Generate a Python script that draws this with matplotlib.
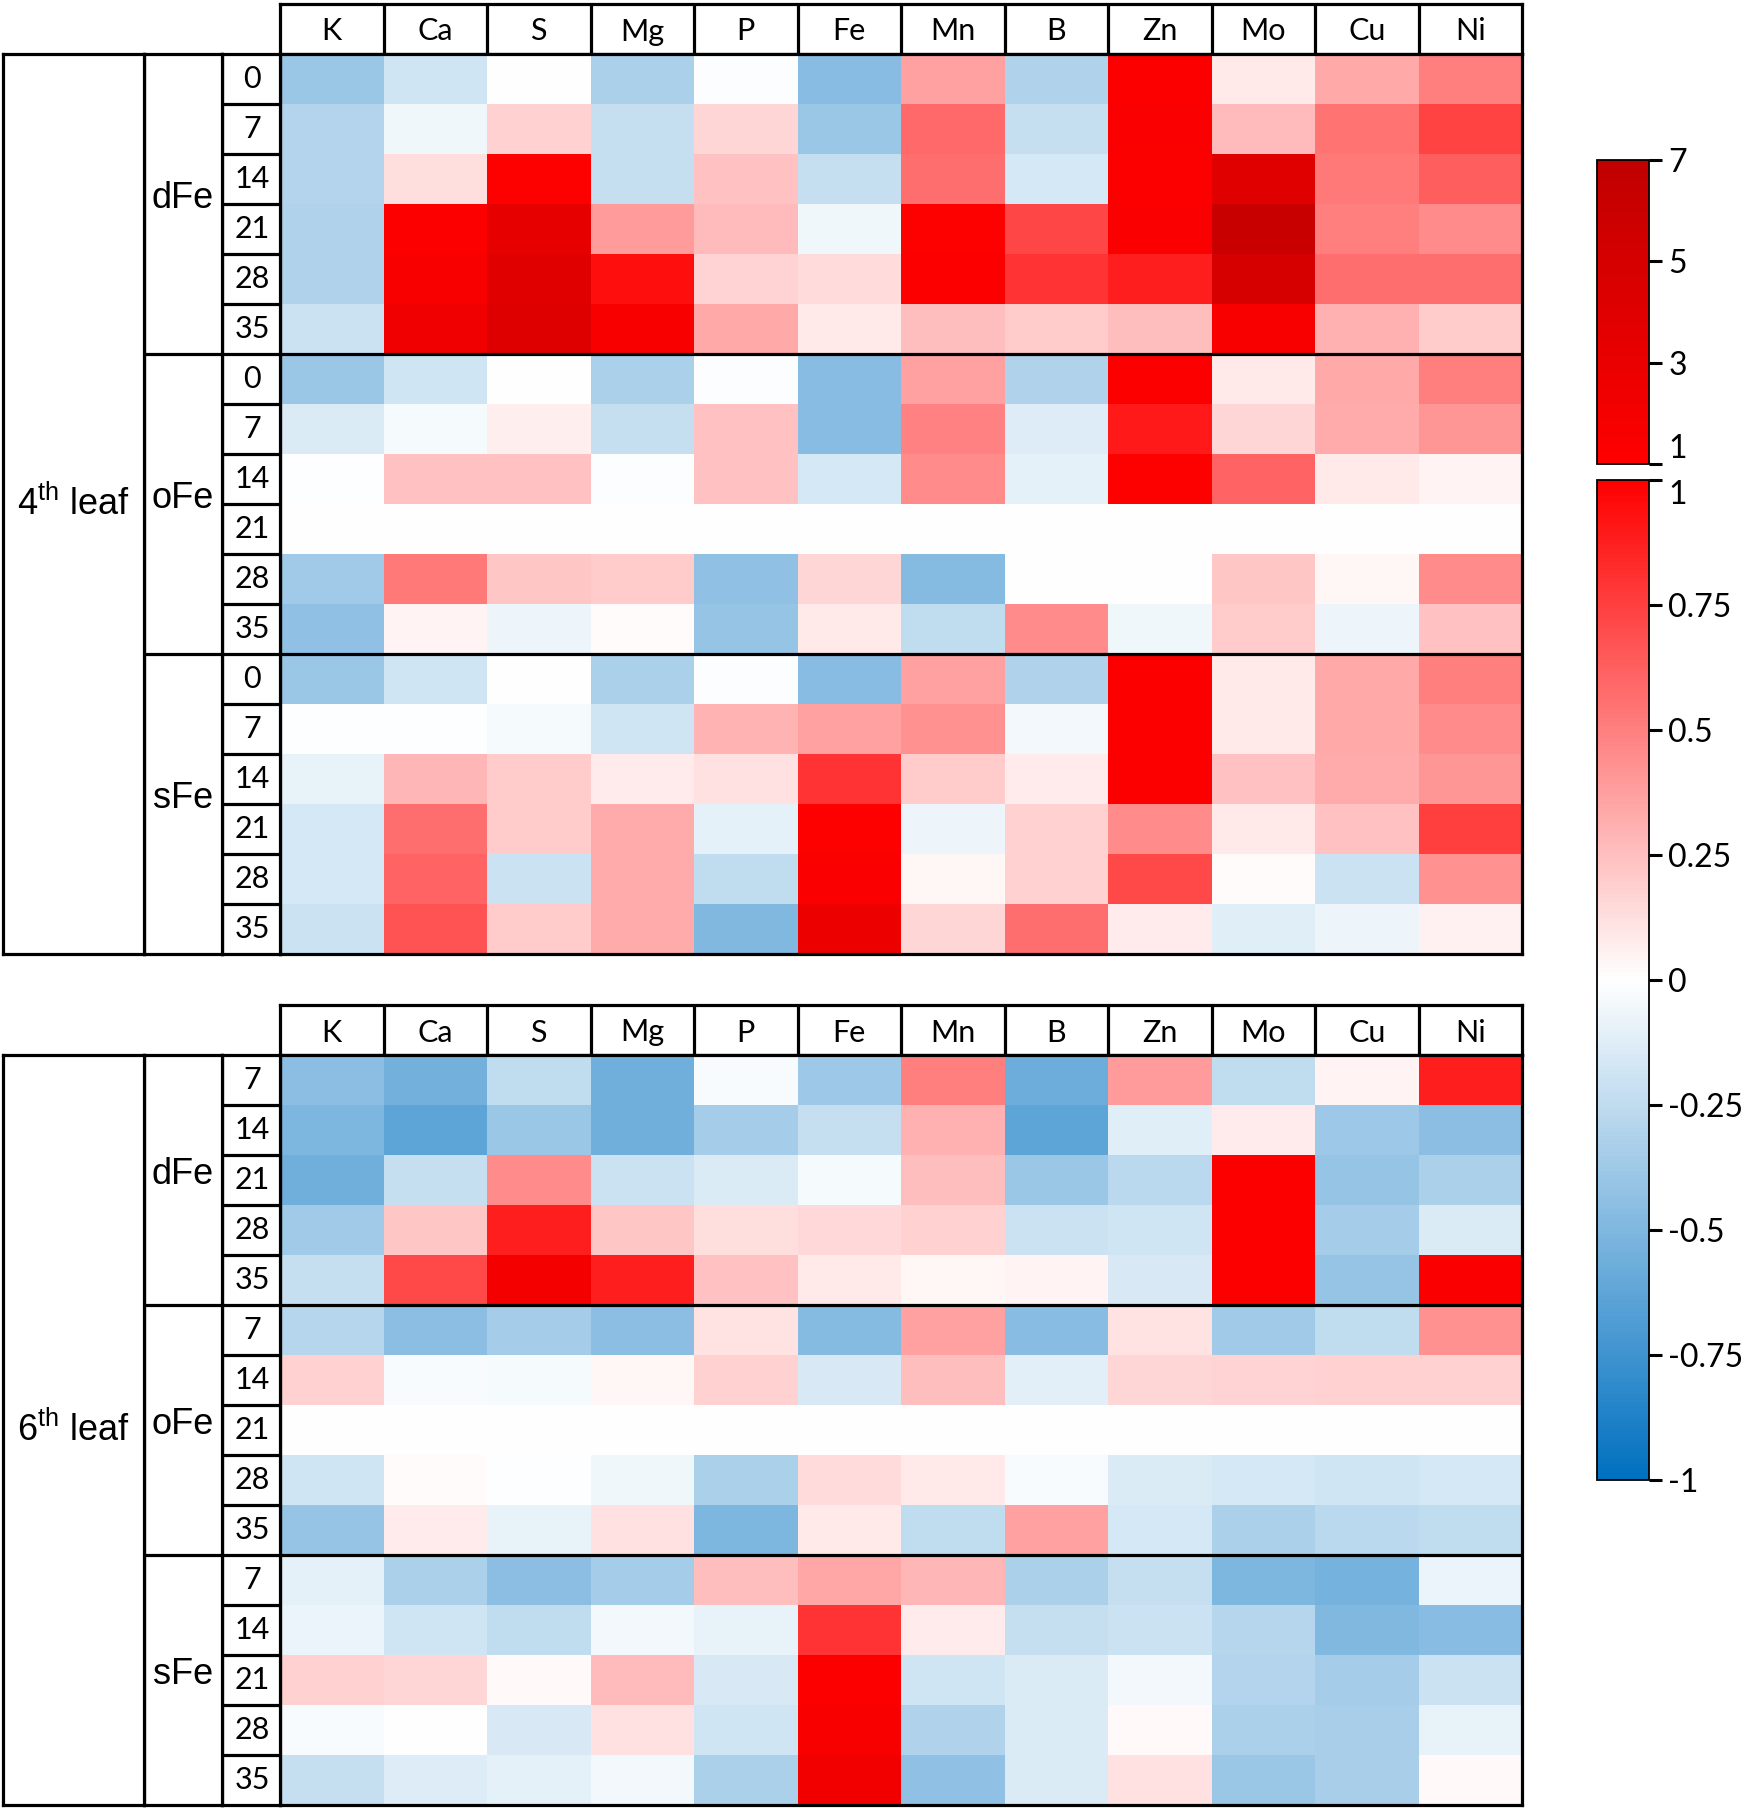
import numpy as np
import matplotlib
matplotlib.use('Agg')
import matplotlib.pyplot as plt
from matplotlib.colors import LinearSegmentedColormap, Normalize, FuncNorm
from matplotlib.cm import ScalarMappable

plt.rcParams['axes.unicode_minus'] = False
plt.rcParams['mathtext.fontset'] = 'custom'
plt.rcParams['mathtext.rm'] = 'Liberation Sans'

# ---- data (log ratios) ----
elements = ['K', 'Ca', 'S', 'Mg', 'P', 'Fe', 'Mn', 'B', 'Zn', 'Mo', 'Cu', 'Ni']
groups = ['dFe', 'oFe', 'sFe']
days_4th = [0, 7, 14, 21, 28, 35]
days_6th = [7, 14, 21, 28, 35]

leaf4_dFe = [
    [-0.39, -0.18, 0.00, -0.33, -0.02, -0.46, 0.37, -0.31, 1.2, 0.09, 0.34, 0.50],
    [-0.30, -0.06, 0.18, -0.22, 0.16, -0.39, 0.59, -0.22, 1.3, 0.27, 0.55, 0.73],
    [-0.30, 0.13, 1.1, -0.22, 0.24, -0.22, 0.57, -0.16, 1.2, 3.9, 0.53, 0.63],
    [-0.31, 1.2, 3.4, 0.39, 0.27, -0.06, 1.1, 0.72, 1.3, 6.2, 0.51, 0.45],
    [-0.31, 1.5, 3.9, 0.94, 0.17, 0.14, 1.2, 0.80, 0.88, 4.8, 0.57, 0.57],
    [-0.20, 2.4, 4.1, 1.5, 0.34, 0.09, 0.25, 0.20, 0.25, 1.5, 0.31, 0.20],
]
leaf4_oFe = [
    [-0.39, -0.18, 0.00, -0.33, -0.02, -0.46, 0.37, -0.31, 1.2, 0.09, 0.34, 0.50],
    [-0.14, -0.04, 0.07, -0.22, 0.24, -0.46, 0.49, -0.13, 0.90, 0.16, 0.33, 0.41],
    [-0.01, 0.24, 0.24, -0.02, 0.24, -0.16, 0.45, -0.10, 1.1, 0.61, 0.09, 0.05],
    [0, 0, 0, 0, 0, 0, 0, 0, 0, 0, 0, 0],
    [-0.37, 0.53, 0.22, 0.20, -0.43, 0.16, -0.47, 0.01, 0.00, 0.22, 0.04, 0.45],
    [-0.43, 0.05, -0.07, 0.02, -0.41, 0.09, -0.24, 0.45, -0.06, 0.20, -0.07, 0.24],
]
leaf4_sFe = [
    [-0.39, -0.18, 0.00, -0.33, -0.02, -0.46, 0.37, -0.31, 1.2, 0.09, 0.34, 0.50],
    [-0.01, -0.01, -0.04, -0.18, 0.30, 0.37, 0.43, -0.05, 1.2, 0.09, 0.34, 0.45],
    [-0.09, 0.29, 0.20, 0.08, 0.12, 0.80, 0.20, 0.08, 1.2, 0.24, 0.33, 0.41],
    [-0.16, 0.57, 0.20, 0.33, -0.10, 1.1, -0.07, 0.18, 0.45, 0.09, 0.24, 0.75],
    [-0.16, 0.61, -0.20, 0.33, -0.25, 1.4, 0.04, 0.18, 0.71, 0.02, -0.20, 0.43],
    [-0.20, 0.67, 0.20, 0.33, -0.49, 2.6, 0.16, 0.57, 0.08, -0.12, -0.07, 0.06],
]

leaf6_dFe = [
    [-0.45, -0.55, -0.24, -0.56, -0.03, -0.38, 0.50, -0.57, 0.39, -0.25, 0.05, 0.88],
    [-0.51, -0.63, -0.39, -0.56, -0.35, -0.22, 0.31, -0.63, -0.12, 0.08, -0.38, -0.45],
    [-0.56, -0.22, 0.45, -0.20, -0.14, -0.04, 0.25, -0.39, -0.27, 1.2, -0.41, -0.33],
    [-0.37, 0.22, 0.88, 0.22, 0.13, 0.15, 0.18, -0.20, -0.18, 1.2, -0.35, -0.14],
    [-0.22, 0.71, 2.0, 0.88, 0.24, 0.09, 0.04, 0.05, -0.15, 1.2, -0.41, 1.3],
]
leaf6_oFe = [
    [-0.29, -0.45, -0.35, -0.45, 0.11, -0.47, 0.37, -0.46, 0.11, -0.37, -0.25, 0.43],
    [0.18, -0.03, -0.04, 0.04, 0.18, -0.15, 0.25, -0.11, 0.16, 0.17, 0.18, 0.18],
    [0, 0, 0, 0, 0, 0, 0, 0, 0, 0, 0, 0],
    [-0.18, 0.02, -0.01, -0.06, -0.33, 0.14, 0.09, -0.03, -0.14, -0.16, -0.18, -0.16],
    [-0.41, 0.08, -0.09, 0.12, -0.51, 0.09, -0.24, 0.37, -0.16, -0.33, -0.27, -0.25],
]
leaf6_sFe = [
    [-0.10, -0.33, -0.45, -0.35, 0.25, 0.35, 0.29, -0.33, -0.22, -0.51, -0.54, -0.08],
    [-0.08, -0.18, -0.25, -0.05, -0.09, 0.80, 0.08, -0.22, -0.20, -0.29, -0.49, -0.46],
    [0.18, 0.16, 0.03, 0.27, -0.15, 1.2, -0.18, -0.14, -0.05, -0.30, -0.35, -0.20],
    [-0.03, 0.00, -0.15, 0.12, -0.18, 1.5, -0.31, -0.14, 0.03, -0.33, -0.34, -0.09],
    [-0.22, -0.13, -0.10, -0.05, -0.33, 2.2, -0.43, -0.14, 0.12, -0.39, -0.34, 0.03],
]

# ---- colour scales: -1..1 blue-white-red, 1..7 red-dark red ----
low_cmap = LinearSegmentedColormap.from_list('low', ['#0070C0', '#FFFFFF', '#FF0000'])
high_cmap = LinearSegmentedColormap.from_list('high', ['#FF0000', '#C00000'])
full_cmap = LinearSegmentedColormap.from_list(
    'full', [(0, '#0070C0'), (0.375, '#FFFFFF'), (0.75, '#FF0000'), (1, '#C00000')])
full_norm = FuncNorm((lambda v: np.interp(v, [-1, 1, 7], [0, 0.75, 1]),
                      lambda u: np.interp(u, [0, 0.75, 1], [-1, 1, 7])), vmin=-1, vmax=7)

W, H = 1750, 1811
LW = 2.3
fig = plt.figure(figsize=(W / 100, H / 100), dpi=100)


def px_axes(x0, y0, x1, y1):
    ax = fig.add_axes([x0 / W, 1 - y1 / H, (x1 - x0) / W, (y1 - y0) / H])
    ax.set_xticks([])
    ax.set_yticks([])
    for s in ax.spines.values():
        s.set_linewidth(LW)
    return ax


def draw_block(top, leaf_label, days, blocks):
    n_days = len(days)
    n = n_days * len(blocks)
    rh = 50
    y0 = top + 50
    y1 = y0 + n * rh

    # column header
    hx = px_axes(280, top, 1522, y0)
    hx.set_xlim(0, len(elements))
    hx.set_ylim(0, 1)
    for i, el in enumerate(elements):
        if i:
            hx.axvline(i, color='black', lw=LW)
        hx.text(i + 0.5, 0.45, el, ha='center', va='center', fontsize=22, family='Lato')

    # heatmap cells
    values = np.vstack([np.array(b) for b in blocks])
    ax = px_axes(280, y0, 1522, y1)
    ax.pcolormesh(values, cmap=full_cmap, norm=full_norm)
    ax.set_xlim(0, len(elements))
    ax.set_ylim(n, 0)
    for k in range(1, len(blocks)):
        ax.axhline(k * n_days, color='black', lw=LW)

    # day column
    dx = px_axes(222, y0, 280, y1)
    dx.set_xlim(0, 1)
    dx.set_ylim(n, 0)
    for r in range(n):
        if r:
            dx.axhline(r, color='black', lw=LW)
        dx.text(0.52, r + 0.5, str(days[r % n_days]), ha='center', va='center',
                fontsize=22, family='Lato')

    # group column
    gx = px_axes(144, y0, 222, y1)
    gx.set_xlim(0, 1)
    gx.set_ylim(n, 0)
    for k, g in enumerate(groups):
        if k:
            gx.axhline(k * n_days, color='black', lw=LW)
        gx.text(0.5, k * n_days + n_days / 2 - 0.1, g, ha='center', va='center',
                fontsize=26, family='Liberation Sans')

    # leaf column
    lx = px_axes(3, y0, 144, y1)
    lx.set_xlim(0, 1)
    lx.set_ylim(1, 0)
    lx.text(0.5, 0.5, leaf_label, ha='center', va='center', fontsize=26,
            family='Liberation Sans')


draw_block(4, '4$^{\\mathrm{th}}$ leaf', days_4th, [leaf4_dFe, leaf4_oFe, leaf4_sFe])
draw_block(1005, '6$^{\\mathrm{th}}$ leaf', days_6th, [leaf6_dFe, leaf6_oFe, leaf6_sFe])

# ---- split colour bar ----
cax_hi = fig.add_axes([1597 / W, 1 - 464 / H, 52 / W, 304 / H])
cax_lo = fig.add_axes([1597 / W, 1 - 1480 / H, 52 / W, 1000 / H])
cb_hi = fig.colorbar(ScalarMappable(norm=Normalize(1, 7), cmap=high_cmap), cax=cax_hi)
cb_lo = fig.colorbar(ScalarMappable(norm=Normalize(-1, 1), cmap=low_cmap), cax=cax_lo)
hi_ticks = [1, 3, 5, 7]
lo_ticks = [-1, -0.75, -0.5, -0.25, 0, 0.25, 0.5, 0.75, 1]
cb_hi.set_ticks(hi_ticks)
cb_hi.set_ticklabels(['1', '3', '5', '7'])
cb_lo.set_ticks(lo_ticks)
cb_lo.set_ticklabels(['-1', '-0.75', '-0.5', '-0.25', '0', '0.25', '0.5', '0.75', '1'])
for cb in (cb_hi, cb_lo):
    cb.outline.set_linewidth(1.3)
    cb.ax.tick_params(length=9, width=2.2, pad=5)
    for t in cb.ax.get_yticklabels():
        t.set_fontsize(23)
        t.set_family('Lato')
# keep the two "1" labels at the break from running into each other
cb_lo.ax.get_yticklabels()[-1].set_verticalalignment('top')
cb_hi.ax.get_yticklabels()[0].set_verticalalignment('bottom')

fig.savefig('out.png', dpi=100, facecolor='white')
